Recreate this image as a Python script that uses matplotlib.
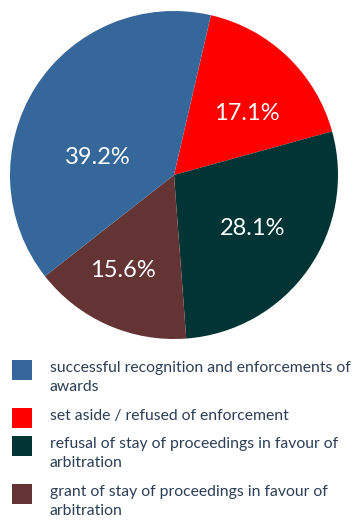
import numpy as np
import matplotlib.pyplot as plt
from matplotlib.patches import Rectangle

# --- Data ---
labels = [
    "set aside / refused of enforcement",
    "refusal of stay of proceedings in favour of\narbitration",
    "grant of stay of proceedings in favour of\narbitration",
    "successful recognition and enforcements of\nawards",
]
values = [17.1, 28.1, 15.6, 39.2]
colors = ['#ff0000', '#013434', '#643435', '#35679a']

# legend order as in the reference
legend_order = [3, 0, 1, 2]

# where the percentage labels sit: (angle in degrees, fraction of radius)
label_pos = [(40, 0.58), (-34, 0.58), (-118, 0.66), (167, 0.48)]

plt.rcParams['font.family'] = ['Lato', 'DejaVu Sans']

W, H = 353, 521
fig = plt.figure(figsize=(W / 100, H / 100), dpi=100)

# pie: centre (174, 175) px, radius 164 px
cx, cy, r = 174, 175, 164
ax = fig.add_axes([(cx - r) / W, (H - cy - r) / H, 2 * r / W, 2 * r / H])

wedges, texts, autotexts = ax.pie(
    values, colors=colors, startangle=77, counterclock=False,
    autopct='%.1f%%', pctdistance=0.6,
    textprops={'color': 'white', 'fontsize': 17},
)
for t, (ang, d) in zip(autotexts, label_pos):
    t.set_position((d * np.cos(np.radians(ang)), d * np.sin(np.radians(ang))))
ax.set_xlim(-1, 1)
ax.set_ylim(-1, 1)
ax.set_aspect('equal')
ax.axis('off')

# --- Legend (drawn by hand so the square lines up with the first line) ---
top = 360        # px from top of the first square
line_h = 20      # px per text line
gap = 8          # px between entries
for i in legend_order:
    nlines = labels[i].count('\n') + 1
    fig.patches.append(Rectangle((12 / W, 1 - (top + 20) / H), 20 / W, 20 / H,
                                 transform=fig.transFigure,
                                 facecolor=colors[i], edgecolor='none'))
    fig.text(50 / W, 1 - (top + 1) / H, labels[i], fontsize=11.3,
             color='#2b3e56', va='top', ha='left', linespacing=1.45,
             transform=fig.transFigure)
    top += nlines * line_h + gap

fig.savefig('out.png', dpi=100)
